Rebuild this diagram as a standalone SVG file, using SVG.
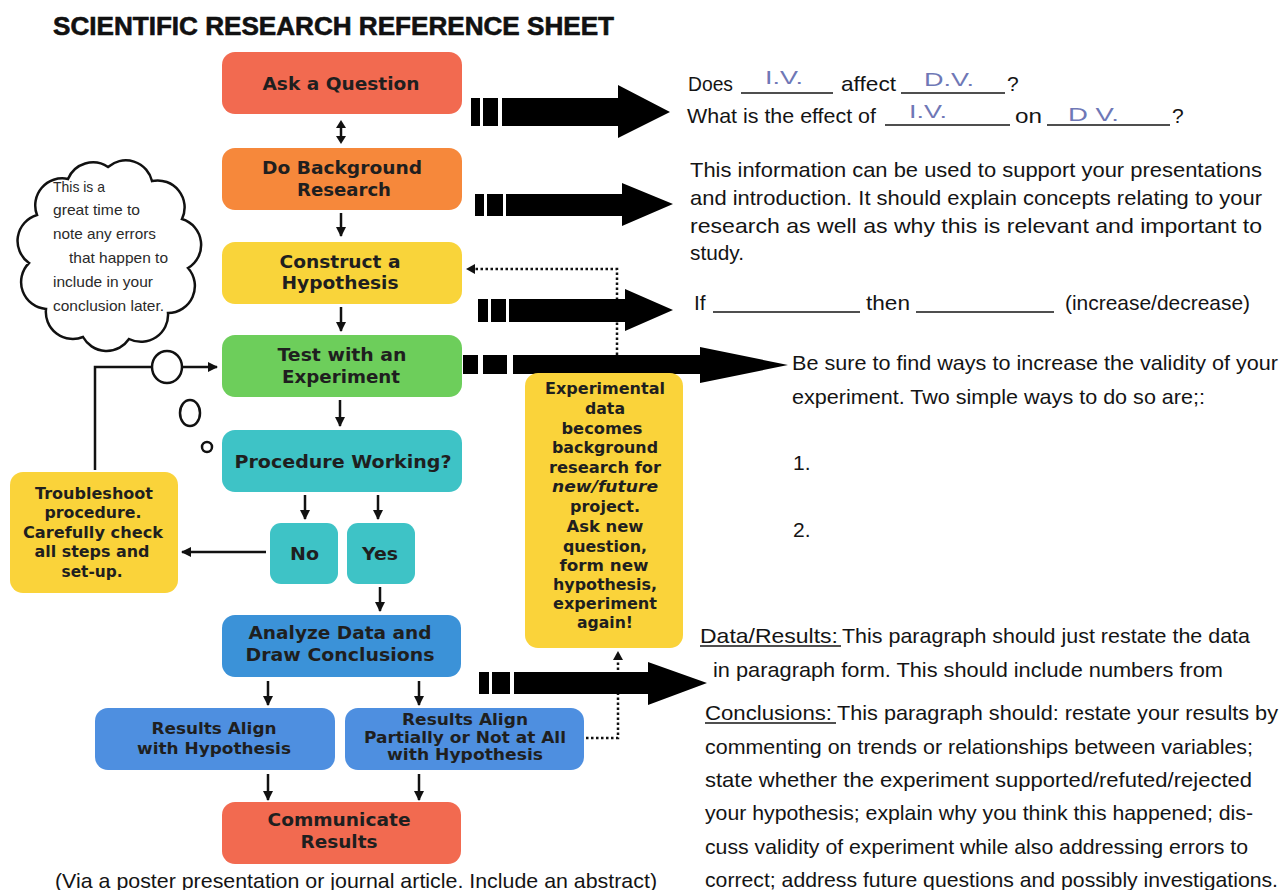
<svg xmlns="http://www.w3.org/2000/svg" width="1279" height="890" viewBox="0 0 1279 890">
<defs>
<style>
.bt{font-family:"DejaVu Sans",Verdana,sans-serif;font-weight:bold;fill:#1f1f1f;text-anchor:middle}
.f18{font-size:18.5px}
.f16{font-size:16px}
.body{font-family:"Liberation Sans",Arial,sans-serif;font-size:21px;fill:#141414}
.cloudt{font-family:"Liberation Sans",Arial,sans-serif;font-size:14.5px;fill:#2a2a2a}
.hw{font-family:"Liberation Sans",Arial,sans-serif;font-size:18px;fill:#6f78b6}
.ul{stroke:#141414;stroke-width:1.4}
.conn{stroke:#111;stroke-width:2.5;fill:none}
.dot{stroke:#111;stroke-width:2.5;fill:none;stroke-dasharray:2.5 2.5}
.big{fill:#000}
</style>
<marker id="ah" viewBox="0 0 10 10" refX="9" refY="5" markerWidth="10" markerHeight="10" markerUnits="userSpaceOnUse" orient="auto-start-reverse">
<path d="M0,0 L10,5 L0,10 z" fill="#111"/>
</marker>
</defs>
<rect width="1279" height="890" fill="#ffffff"/>

<text x="53" y="35" font-family="'Liberation Sans',Arial,sans-serif" font-weight="bold" font-size="25" fill="#111" stroke="#111" stroke-width="0.6" textLength="561" lengthAdjust="spacingAndGlyphs">SCIENTIFIC RESEARCH REFERENCE SHEET</text>

<!-- connectors -->
<g id="connectors">
<line class="conn" x1="341" y1="126" x2="341" y2="138"/>
<path d="M341,120 L346,128 L336,128 z M341,144 L346,136 L336,136 z" fill="#111"/>
<line class="conn" x1="341" y1="213" x2="341" y2="236" marker-end="url(#ah)"/>
<line class="conn" x1="341" y1="307" x2="341" y2="331" marker-end="url(#ah)"/>
<line class="conn" x1="340" y1="400" x2="340" y2="426" marker-end="url(#ah)"/>
<line class="conn" x1="305" y1="495" x2="305" y2="519" marker-end="url(#ah)"/>
<line class="conn" x1="378" y1="495" x2="378" y2="519" marker-end="url(#ah)"/>
<line class="conn" x1="380" y1="587" x2="380" y2="611" marker-end="url(#ah)"/>
<line class="conn" x1="266" y1="552" x2="182" y2="552" marker-end="url(#ah)"/>
<polyline class="conn" points="95,470 95,367 217,367" marker-end="url(#ah)"/>
<line class="conn" x1="268" y1="681" x2="268" y2="705" marker-end="url(#ah)"/>
<line class="conn" x1="419" y1="681" x2="419" y2="705" marker-end="url(#ah)"/>
<line class="conn" x1="268" y1="774" x2="268" y2="800" marker-end="url(#ah)"/>
<line class="conn" x1="419" y1="774" x2="419" y2="800" marker-end="url(#ah)"/>
<polyline class="dot" points="617,355 617,269 472,269"/>
<path d="M466,269 L475,264 L475,274 z" fill="#111"/>
<polyline class="dot" points="586,738 618,738 618,658"/>
<path d="M618,651 L613,660 L623,660 z" fill="#111"/>
<!-- big arrows -->
<rect class="big" x="471" y="98" width="9" height="28"/><rect class="big" x="483" y="98" width="15" height="28"/>
<polygon class="big" points="502,98 618,98 618,85 670,112 618,138 618,126 502,126"/>
<rect class="big" x="475" y="194" width="9" height="22"/><rect class="big" x="487" y="194" width="16" height="22"/>
<polygon class="big" points="506,194 622,194 622,183 673,204 622,226 622,216 506,216"/>
<rect class="big" x="478" y="299" width="10" height="23"/><rect class="big" x="491" y="299" width="15" height="23"/>
<polygon class="big" points="509,299 625,299 625,289 673,310 625,331 625,322 509,322"/>
<rect class="big" x="463" y="355" width="15" height="19"/><rect class="big" x="483" y="355" width="24" height="19"/>
<polygon class="big" points="513,355 700,355 700,347 788,365 700,383 700,374 513,374"/>
<rect class="big" x="479" y="672" width="10" height="22"/><rect class="big" x="492" y="672" width="18" height="22"/>
<polygon class="big" points="514,672 648,672 648,662 707,683 648,705 648,694 514,694"/>
</g>

<!-- thought cloud -->
<g id="cloud">
<path d="M108,167 A27,27 0 0 1 152,181 A27,27 0 0 1 182,219 A27,27 0 0 1 188,268 A27,27 0 0 1 168,313 A27,27 0 0 1 129,339 A27,27 0 0 1 83,337 A27,27 0 0 1 46,309 A27,27 0 0 1 29,263 A27,27 0 0 1 37,215 A27,27 0 0 1 68,179 A27,27 0 0 1 108,167 z" fill="#fff" stroke="#111" stroke-width="2.5"/>
<text class="cloudt" x="53" y="192" textLength="52" lengthAdjust="spacingAndGlyphs">This is a</text>
<text class="cloudt" x="53" y="215" textLength="87" lengthAdjust="spacingAndGlyphs">great time to</text>
<text class="cloudt" x="53" y="239" textLength="103" lengthAdjust="spacingAndGlyphs">note any errors</text>
<text class="cloudt" x="69" y="263" textLength="99" lengthAdjust="spacingAndGlyphs">that happen to</text>
<text class="cloudt" x="53" y="287" textLength="100" lengthAdjust="spacingAndGlyphs">include in your</text>
<text class="cloudt" x="53" y="311" textLength="111" lengthAdjust="spacingAndGlyphs">conclusion later.</text>
<ellipse cx="167" cy="367" rx="15" ry="16" fill="#fff" stroke="#111" stroke-width="2.5"/>
<ellipse cx="190" cy="413" rx="10" ry="13" fill="#fff" stroke="#111" stroke-width="2.5"/>
<circle cx="207" cy="447" r="5" fill="#fff" stroke="#111" stroke-width="2.5"/>
</g>

<g id="ask">
<rect x="222" y="52" width="240" height="62" rx="13" fill="#F26A50"/>
<text class="bt f18" x="341" y="90" textLength="157" lengthAdjust="spacingAndGlyphs">Ask a Question</text>
</g>
<g id="background">
<rect x="222" y="148" width="240" height="62" rx="13" fill="#F6883B"/>
<text class="bt f18" x="342" y="174" textLength="160" lengthAdjust="spacingAndGlyphs">Do Background</text>
<text class="bt f18" x="344" y="196" textLength="94" lengthAdjust="spacingAndGlyphs">Research</text>
</g>
<g id="hypothesis">
<rect x="222" y="242" width="240" height="62" rx="13" fill="#F9D43A"/>
<text class="bt f18" x="340" y="268" textLength="121" lengthAdjust="spacingAndGlyphs">Construct a</text>
<text class="bt f18" x="340" y="289" textLength="117" lengthAdjust="spacingAndGlyphs">Hypothesis</text>
</g>
<g id="experiment">
<rect x="222" y="335" width="240" height="62" rx="13" fill="#6DCE5B"/>
<text class="bt f18" x="342" y="361" textLength="129" lengthAdjust="spacingAndGlyphs">Test with an</text>
<text class="bt f18" x="341" y="383" textLength="118" lengthAdjust="spacingAndGlyphs">Experiment</text>
</g>
<g id="procedure">
<rect x="222" y="430" width="240" height="62" rx="13" fill="#3EC3C6"/>
<text class="bt f18" x="343" y="468" textLength="217" lengthAdjust="spacingAndGlyphs">Procedure Working?</text>
</g>
<g id="no">
<rect x="270" y="523" width="68" height="61" rx="11" fill="#3EC3C6"/>
<text class="bt f18" x="304.5" y="560" textLength="29" lengthAdjust="spacingAndGlyphs">No</text>
</g>
<g id="yes">
<rect x="347" y="523" width="68" height="61" rx="11" fill="#3EC3C6"/>
<text class="bt f18" x="380" y="560" textLength="36" lengthAdjust="spacingAndGlyphs">Yes</text>
</g>
<g id="troubleshoot">
<rect x="10" y="472" width="168" height="121" rx="13" fill="#FAD33A"/>
<text class="bt f16" x="94" y="499" textLength="118" lengthAdjust="spacingAndGlyphs">Troubleshoot</text>
<text class="bt f16" x="93" y="518" textLength="97" lengthAdjust="spacingAndGlyphs">procedure.</text>
<text class="bt f16" x="93" y="538" textLength="140" lengthAdjust="spacingAndGlyphs">Carefully check</text>
<text class="bt f16" x="92" y="557" textLength="115" lengthAdjust="spacingAndGlyphs">all steps and</text>
<text class="bt f16" x="92" y="577" textLength="61" lengthAdjust="spacingAndGlyphs">set-up.</text>
</g>
<g id="feedback">
<rect x="525" y="373" width="158" height="275" rx="13" fill="#FAD33A"/>
<text class="bt f16" x="605" y="394" textLength="120" lengthAdjust="spacingAndGlyphs">Experimental</text>
<text class="bt f16" x="605" y="414" textLength="40" lengthAdjust="spacingAndGlyphs">data</text>
<text class="bt f16" x="602" y="434" textLength="81" lengthAdjust="spacingAndGlyphs">becomes</text>
<text class="bt f16" x="605" y="453" textLength="106" lengthAdjust="spacingAndGlyphs">background</text>
<text class="bt f16" x="605" y="473" textLength="112" lengthAdjust="spacingAndGlyphs">research for</text>
<text class="bt f16" x="605" y="492" font-style="italic" textLength="106" lengthAdjust="spacingAndGlyphs">new/future</text>
<text class="bt f16" x="605" y="512" textLength="70" lengthAdjust="spacingAndGlyphs">project.</text>
<text class="bt f16" x="605" y="532" textLength="77" lengthAdjust="spacingAndGlyphs">Ask new</text>
<text class="bt f16" x="605" y="552" textLength="84" lengthAdjust="spacingAndGlyphs">question,</text>
<text class="bt f16" x="604" y="571" textLength="89" lengthAdjust="spacingAndGlyphs">form new</text>
<text class="bt f16" x="605" y="590" textLength="104" lengthAdjust="spacingAndGlyphs">hypothesis,</text>
<text class="bt f16" x="605" y="609" textLength="104" lengthAdjust="spacingAndGlyphs">experiment</text>
<text class="bt f16" x="605" y="628" textLength="56" lengthAdjust="spacingAndGlyphs">again!</text>
</g>
<g id="analyze">
<rect x="222" y="615" width="239" height="62" rx="13" fill="#3B92D8"/>
<text class="bt f18" x="340" y="639" textLength="183" lengthAdjust="spacingAndGlyphs">Analyze Data and</text>
<text class="bt f18" x="340" y="661" textLength="189" lengthAdjust="spacingAndGlyphs">Draw Conclusions</text>
</g>
<g id="results-align">
<rect x="95" y="708" width="240" height="62" rx="13" fill="#4E8FE0"/>
<text class="bt f16" x="214" y="734" textLength="125" lengthAdjust="spacingAndGlyphs">Results Align</text>
<text class="bt f16" x="214" y="754" textLength="154" lengthAdjust="spacingAndGlyphs">with Hypothesis</text>
</g>
<g id="results-partial">
<rect x="345" y="708" width="239" height="62" rx="13" fill="#4E8FE0"/>
<text class="bt f16" x="465" y="725" textLength="126" lengthAdjust="spacingAndGlyphs">Results Align</text>
<text class="bt f16" x="465" y="743" textLength="202" lengthAdjust="spacingAndGlyphs">Partially or Not at All</text>
<text class="bt f16" x="465" y="760" textLength="156" lengthAdjust="spacingAndGlyphs">with Hypothesis</text>
</g>
<g id="communicate">
<rect x="222" y="802" width="239" height="62" rx="13" fill="#F26A50"/>
<text class="bt f18" x="339" y="826" textLength="143" lengthAdjust="spacingAndGlyphs">Communicate</text>
<text class="bt f18" x="339" y="848" textLength="77" lengthAdjust="spacingAndGlyphs">Results</text>
</g>

<text class="body" x="55" y="888" textLength="602" lengthAdjust="spacingAndGlyphs">(Via a poster presentation or journal article.  Include an abstract)</text>

<!-- right column text -->
<g id="question-text">
<text class="body" x="688" y="91" textLength="45" lengthAdjust="spacingAndGlyphs">Does</text>
<line class="ul" x1="741" y1="93" x2="833" y2="93"/>
<text class="body" x="841" y="91" textLength="55" lengthAdjust="spacingAndGlyphs">affect</text>
<line class="ul" x1="901" y1="93" x2="1005" y2="93"/>
<text class="body" x="1007" y="91">?</text>
<text class="body" x="687" y="123" textLength="189" lengthAdjust="spacingAndGlyphs">What is the effect of</text>
<line class="ul" x1="885" y1="125" x2="1010" y2="125"/>
<text class="body" x="1015" y="123" textLength="27" lengthAdjust="spacingAndGlyphs">on</text>
<line class="ul" x1="1047" y1="125" x2="1170" y2="125"/>
<text class="body" x="1172" y="123">?</text>
<text class="hw" x="765" y="84" textLength="38" lengthAdjust="spacingAndGlyphs">I.V.</text>
<text class="hw" x="924" y="86" textLength="50" lengthAdjust="spacingAndGlyphs">D.V.</text>
<text class="hw" x="909" y="118" textLength="38" lengthAdjust="spacingAndGlyphs">I.V.</text>
<text class="hw" x="1068" y="121" font-size="21" textLength="51" lengthAdjust="spacingAndGlyphs">D V.</text>
</g>
<g id="background-text">
<text class="body" x="690" y="177" textLength="572" lengthAdjust="spacingAndGlyphs">This information can be used to support your presentations</text>
<text class="body" x="690" y="205" textLength="572" lengthAdjust="spacingAndGlyphs">and introduction.  It should explain concepts relating to your</text>
<text class="body" x="690" y="233" textLength="572" lengthAdjust="spacingAndGlyphs">research as well as why this is relevant and important to</text>
<text class="body" x="690" y="260" textLength="54" lengthAdjust="spacingAndGlyphs">study.</text>
</g>
<g id="hypothesis-text">
<text class="body" x="694" y="310">If</text>
<line class="ul" x1="713" y1="312" x2="860" y2="312"/>
<text class="body" x="866" y="310" textLength="44" lengthAdjust="spacingAndGlyphs">then</text>
<line class="ul" x1="916" y1="312" x2="1054" y2="312"/>
<text class="body" x="1065" y="310" textLength="185" lengthAdjust="spacingAndGlyphs">(increase/decrease)</text>
</g>
<g id="experiment-text">
<text class="body" x="792" y="370" textLength="486" lengthAdjust="spacingAndGlyphs">Be sure to  find ways to increase the validity of your</text>
<text class="body" x="792" y="404" textLength="413" lengthAdjust="spacingAndGlyphs">experiment.  Two simple ways to do so are;:</text>
<text class="body" x="793" y="470">1.</text>
<text class="body" x="793" y="537">2.</text>
</g>
<g id="results-text">
<text class="body" x="700" y="643" textLength="138" lengthAdjust="spacingAndGlyphs">Data/Results:</text>
<line class="ul" x1="700" y1="646" x2="841" y2="646"/>
<text class="body" x="842" y="643" textLength="408" lengthAdjust="spacingAndGlyphs">This paragraph should just restate the data</text>
<text class="body" x="713" y="677" textLength="510" lengthAdjust="spacingAndGlyphs">in paragraph form.   This should include numbers from</text>
<text class="body" x="705" y="720" textLength="127" lengthAdjust="spacingAndGlyphs">Conclusions:</text>
<line class="ul" x1="705" y1="723" x2="836" y2="723"/>
<text class="body" x="837" y="720" textLength="441" lengthAdjust="spacingAndGlyphs">This paragraph should: restate your results  by</text>
<text class="body" x="705" y="754" textLength="548" lengthAdjust="spacingAndGlyphs">commenting on trends or relationships between variables;</text>
<text class="body" x="705" y="787" textLength="547" lengthAdjust="spacingAndGlyphs">state whether the experiment supported/refuted/rejected</text>
<text class="body" x="705" y="820" textLength="548" lengthAdjust="spacingAndGlyphs">your hypothesis; explain why you think this happened; dis-</text>
<text class="body" x="705" y="854" textLength="543" lengthAdjust="spacingAndGlyphs">cuss validity of experiment while also addressing errors to</text>
<text class="body" x="705" y="887" textLength="573" lengthAdjust="spacingAndGlyphs">correct; address future questions and possibly investigations.</text>
</g>
</svg>
